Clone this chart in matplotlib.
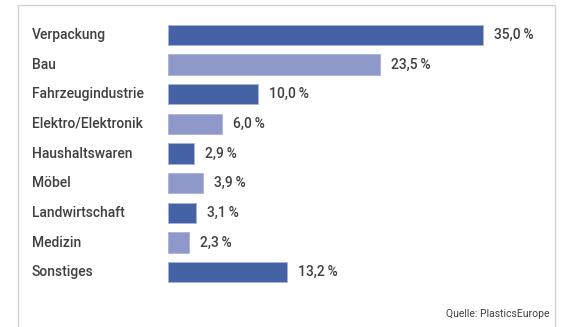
import matplotlib.pyplot as plt
from matplotlib.patches import Rectangle

categories = ["Verpackung", "Bau", "Fahrzeugindustrie", "Elektro/Elektronik",
              "Haushaltswaren", "Möbel", "Landwirtschaft", "Medizin", "Sonstiges"]
values = [35.0, 23.5, 10.0, 6.0, 2.9, 3.9, 3.1, 2.3, 13.2]
source = "Quelle: PlasticsEurope"

dark = "#4562a4"
light = "#8e99ca"
colors = [dark if i % 2 == 0 else light for i in range(len(values))]

plt.rcParams['font.family'] = ['Roboto', 'DejaVu Sans']

fig = plt.figure(figsize=(5.64, 3.27), dpi=100)
W, H = 564.0, 327.0

# frame around the chart
fig.patches.append(Rectangle((18 / W, -0.02), 537 / W, 1 - 5 / H + 0.02,
                             transform=fig.transFigure, fill=False,
                             edgecolor="#d4d4d4", linewidth=1.0))

ax = fig.add_axes([168 / W, 1 - 287 / H, 387 / W, 267 / H])
y = list(range(len(values)))
ax.barh(y, values, height=0.68, color=colors, edgecolor="#a9b3dc", linewidth=0.6)
ax.set_xlim(0, 43)
ax.set_ylim(len(values) - 0.5, -0.5)
ax.axis("off")

for i, (c, v) in enumerate(zip(categories, values)):
    ax.text(-136 / 387, i, c, transform=ax.get_yaxis_transform(),
            ha="left", va="center", fontsize=10, color="#404040",
            fontweight="medium")
    ax.annotate(f"{v:.1f}".replace(".", ",") + "\u2009%", (v, i),
                xytext=(8, 0), textcoords="offset points",
                ha="left", va="center", fontsize=10, color="#404040",
                fontweight="medium")

fig.text(550 / W, 1 - 314 / H, source, ha="right", va="center",
         fontsize=7.5, color="#404040")

fig.savefig("out.png", dpi=100)
